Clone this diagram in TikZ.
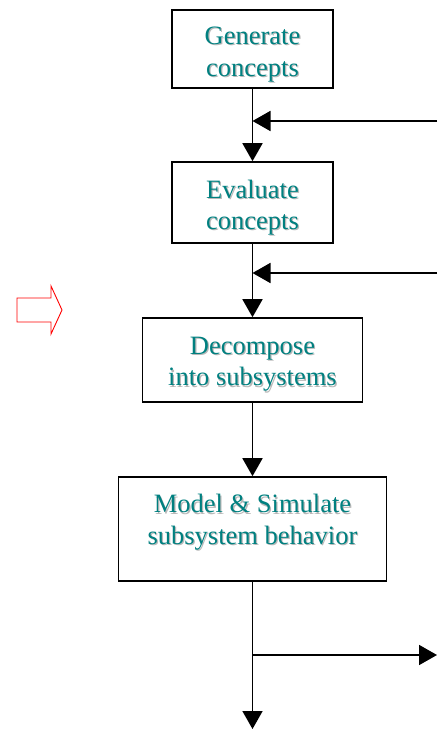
\documentclass[tikz,border=0pt]{standalone}
\usepackage{fontspec}
\setmainfont{Liberation Serif}
\usetikzlibrary{arrows.meta}
\definecolor{tealtxt}{RGB}{0,128,128}
\newcommand\shd[1]{\makebox[0pt][l]{\kern1.2pt\raisebox{-1.2pt}{\color{black!28}#1}}#1}
\begin{document}
\begin{tikzpicture}[x=1pt,y=-1pt,
  box/.style={draw=black,line width=1.6pt,rectangle,inner sep=0pt},
  lbl/.style={align=center,text=tealtxt,font=\fontsize{26.5}{31.5}\selectfont,inner sep=0pt},
  conn/.style={line width=1.7pt,-{Triangle[length=18pt,width=20pt]}}]
\useasboundingbox (0,0) rectangle (437,730);
% boxes
\node[box,minimum width=161pt,minimum height=78pt] (gen) at (252.5,49) {};
\node[box,minimum width=161pt,minimum height=81pt] (eva) at (252.5,202.5) {};
\node[box,minimum width=220pt,minimum height=84pt] (dec) at (252.5,360) {};
\node[box,minimum width=268pt,minimum height=104pt] (mod) at (252.5,529) {};
% labels
\node[lbl] (tgen) at (252.5,55) {\shd{Generate}\\\shd{concepts}};
\node[lbl] (teva) at (252.5,208) {\shd{Evaluate}\\\shd{concepts}};
\node[lbl] (tdec) at (252.5,365) {\shd{Decompose}\\\shd{into subsystems}};
\node[lbl] (tmod) at (252.5,523) {\shd{Model \& Simulate}\\\shd{subsystem behavior}};
% connectors
\draw[conn] (gen.south) -- (eva.north);
\draw[conn] (eva.south) -- (dec.north);
\draw[conn] (dec.south) -- (mod.north);
\coordinate (bot) at (252.5,729);
\draw[conn] (mod.south) -- (bot);
\coordinate (r1) at (437,121);
\coordinate (j1) at (252.5,121);
\draw[conn] (r1) -- (j1);
\coordinate (r2) at (437,273);
\coordinate (j2) at (252.5,273);
\draw[conn] (r2) -- (j2);
\coordinate (j3) at (252.5,655);
\coordinate (r3) at (437,655);
\draw[conn] (j3) -- (r3);
% red outline arrow
\draw[red,line width=0.9pt,line join=miter] (17,298) -- (51,298) -- (51,286) -- (62,310) -- (51,334) -- (51,322) -- (17,322) -- cycle;
\end{tikzpicture}
\end{document}
